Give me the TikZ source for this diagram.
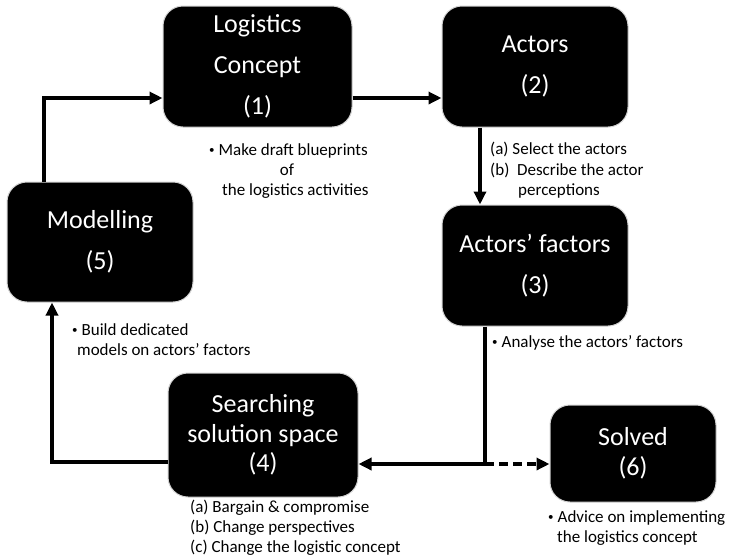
\documentclass[tikz,border=0pt]{standalone}
\usepackage{fontspec}
\setmainfont{Carlito}
\usetikzlibrary{arrows.meta}
\newcommand{\smbul}{{\fontsize{11}{11}\selectfont\raisebox{1.5pt}{\textbullet}}\hspace{4pt}}
\begin{document}
\begin{tikzpicture}[x=1pt,y=-1pt,
  box/.style={draw=gray!35, line width=1pt, fill=black, text=white, rounded corners=20pt,
    inner sep=0pt, align=center},
  bigfont/.style={font=\fontsize{26}{41}\selectfont},
  tightfont/.style={font=\fontsize{26}{29.5}\selectfont},
  note/.style={font=\fontsize{17}{20}\selectfont, inner sep=0pt, anchor=base west},
  arr/.style={line width=3.5pt, -{Triangle[length=13pt,width=12pt]}},
  ln/.style={line width=3.5pt},
  dsh/.style={line width=3.5pt, dash pattern=on 9pt off 5pt, -{Triangle[length=13pt,width=12pt]}}]
\useasboundingbox (0,0) rectangle (732,558);
% boxes
\node[box, bigfont, minimum width=189pt, minimum height=121pt] (b1) at (257.5,66.5) {Logistics\\Concept\\(1)};
\node[box, bigfont, minimum width=186pt, minimum height=121pt] (b2) at (535,66.5) {Actors\\(2)};
\node[box, bigfont, minimum width=186pt, minimum height=121pt] (b3) at (535,265.5) {Actors’ factors\\(3)};
\node[box, bigfont, minimum width=186pt, minimum height=120pt] (b5) at (100,242) {Modelling\\(5)};
\node[box, tightfont, minimum width=190pt, minimum height=124pt] (b4) at (263,435) {Searching\\solution space\\(4)};
\node[box, tightfont, minimum width=166pt, minimum height=97pt] (b6) at (633,453.5) {Solved\\(6)};
% connectors
\coordinate (c1) at (44,98);
\coordinate (c3) at (480,0);
\coordinate (c4) at (485,464);
\coordinate (c5) at (52,462);
\draw[arr, line join=miter] (b5.north -| c1) -- (c1) -- (b1.west |- c1);
\draw[arr] (b1.east |- c1) -- (b2.west |- c1);
\draw[arr] (b2.south -| c3) -- (b3.north -| c3);
\draw[ln] (b3.south -| c4) -- (c4);
\draw[arr] (c4) -- (b4.east |- c4);
\draw[dsh] (c4) -- (b6.west |- c4);
\draw[arr, line join=miter] (b4.west |- c5) -- (c5) -- (b5.south -| c5);
% notes
\node[note] (n1a) at (209,155) {\smbul Make draft blueprints};
\node[note, anchor=base] (n1b) at (287,175) {of};
\node[note] (n1c) at (222,195) {the logistics activities};
\node[note] (n2a) at (490,154) {(a) Select the actors};
\node[note] (n2b) at (490,175) {(b)\ \ Describe the actor};
\node[note] (n2c) at (518,195) {perceptions};
\node[note] (n3) at (492,347) {\smbul Analyse the actors’ factors};
\node[note] (n5a) at (72,335) {\smbul Build dedicated};
\node[note] (n5b) at (77,355) {models on actors’ factors};
\node[note] (n4a) at (190,512) {(a) Bargain \& compromise};
\node[note] (n4b) at (190,532) {(b) Change perspectives};
\node[note] (n4c) at (190,552) {(c) Change the logistic concept};
\node[note] (n6a) at (548,522) {\smbul Advice on implementing};
\node[note] (n6b) at (557,542) {the logistics concept};
\end{tikzpicture}
\end{document}
